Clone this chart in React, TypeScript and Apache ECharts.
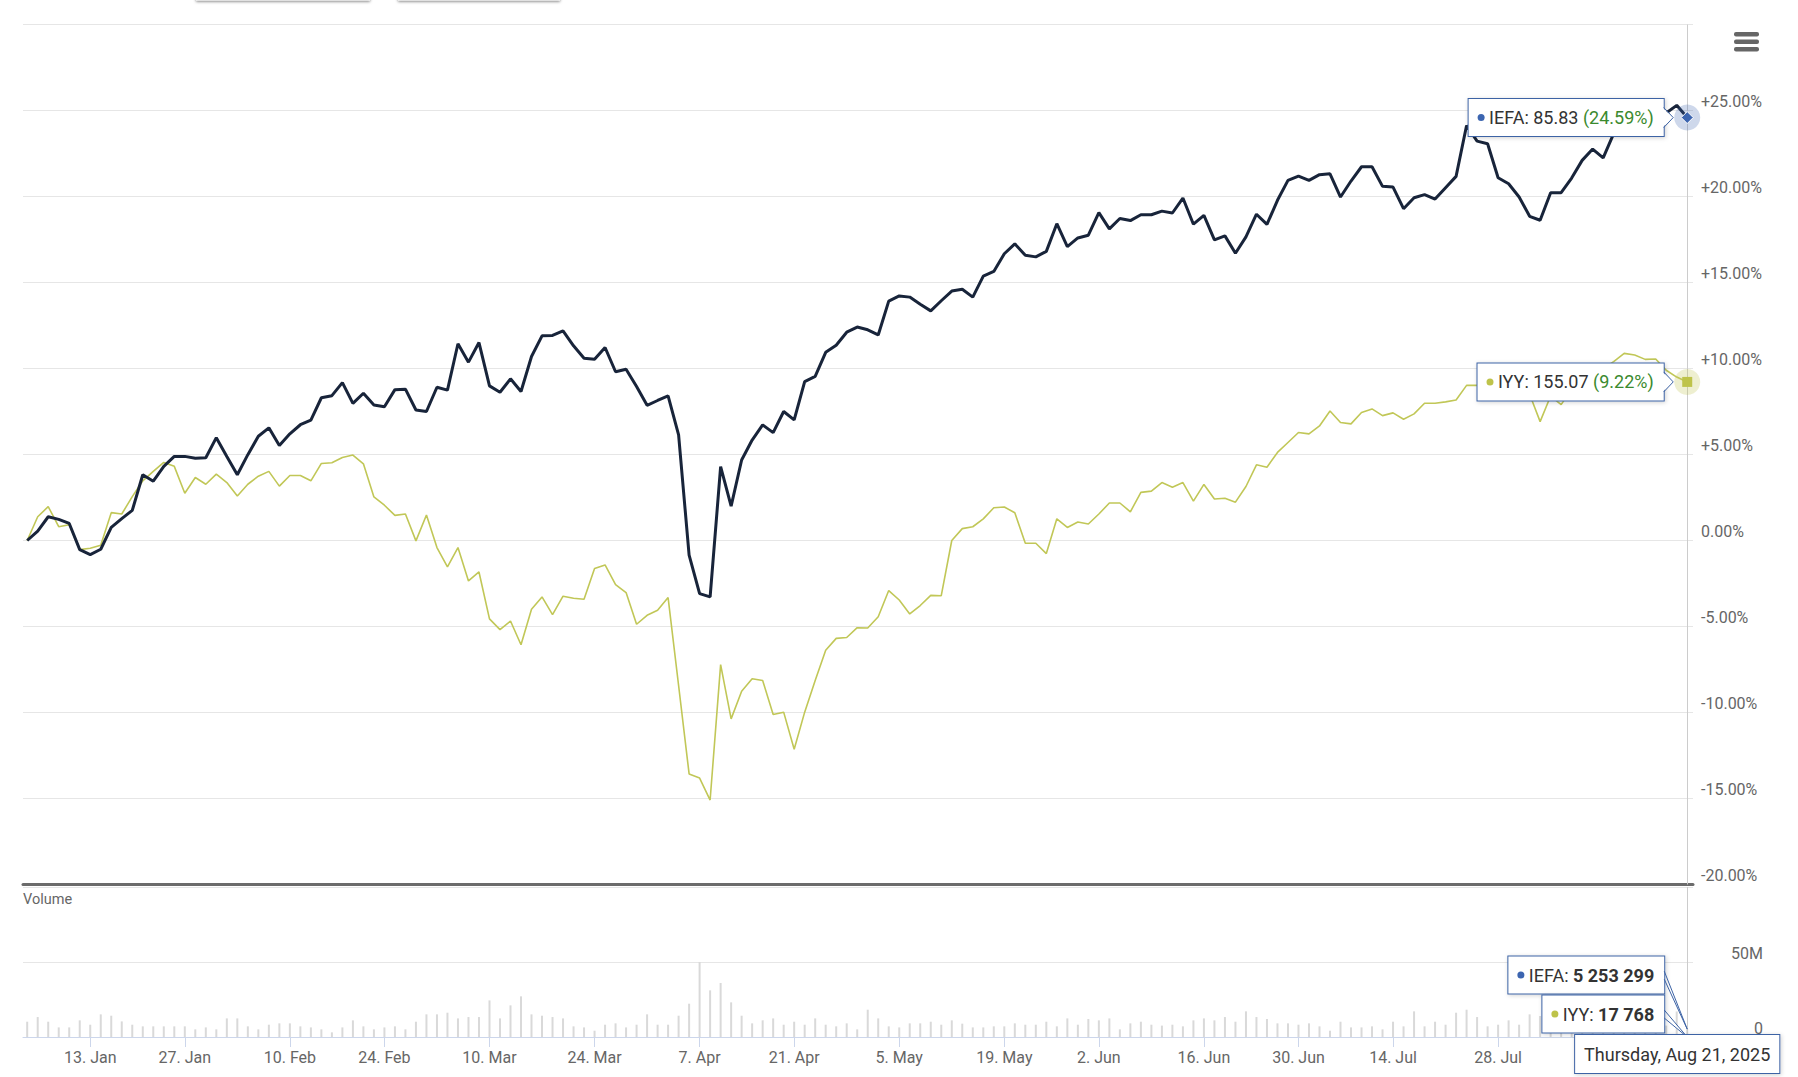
import React, { useEffect, useRef } from "react";
import * as echarts from "echarts";

// ---------- categories ----------
const HOLIDAYS = ["2025-01-09", "2025-01-20", "2025-02-17", "2025-04-18", "2025-05-26", "2025-06-19", "2025-07-04"];
const FIRST_DAY = "2025-01-02";
const LAST_DAY = "2025-08-21";
const MONTHS = ["Jan", "Feb", "Mar", "Apr", "May", "Jun", "Jul", "Aug", "Sep", "Oct", "Nov", "Dec"];
const WEEKDAYS = ["Sunday", "Monday", "Tuesday", "Wednesday", "Thursday", "Friday", "Saturday"];
const TICK_DATES = [
  "2025-01-13", "2025-01-27", "2025-02-10", "2025-02-24", "2025-03-10", "2025-03-24", "2025-04-07", "2025-04-21",
  "2025-05-05", "2025-05-19", "2025-06-02", "2025-06-16", "2025-06-30", "2025-07-14", "2025-07-28", "2025-08-11",
];

function tradingDays(): string[] {
  const out: string[] = [];
  const d = new Date(FIRST_DAY + "T00:00:00Z");
  const end = new Date(LAST_DAY + "T00:00:00Z");
  while (d.getTime() <= end.getTime()) {
    const s = d.toISOString().slice(0, 10);
    const wd = d.getUTCDay();
    if (wd !== 0 && wd !== 6 && HOLIDAYS.indexOf(s) < 0) out.push(s);
    d.setUTCDate(d.getUTCDate() + 1);
  }
  return out;
}
const DATES = tradingDays();

// ---------- series values (% change since start) ----------
const IEFA_PCT = [
  0, 0.55, 1.38, 1.23, 0.99, -0.53, -0.82, -0.51, 0.76, 1.27,
  1.75, 3.82, 3.45, 4.31, 4.89, 4.89, 4.78, 4.81, 5.98, 4.89,
  3.82, 4.99, 6.06, 6.55, 5.52, 6.2, 6.73, 7.0, 8.3, 8.42,
  9.18, 7.97, 8.56, 7.88, 7.78, 8.77, 8.8, 7.59, 7.5, 8.91,
  8.74, 11.44, 10.37, 11.51, 8.99, 8.62, 9.4, 8.66, 10.7, 11.9,
  11.92, 12.19, 11.32, 10.6, 10.54, 11.22, 9.81, 9.96, 8.95, 7.86,
  8.14, 8.41, 6.14, -0.85, -3.09, -3.28, 4.29, 2.0, 4.68, 5.84,
  6.72, 6.27, 7.5, 7.01, 9.24, 9.54, 10.94, 11.35, 12.11, 12.41,
  12.25, 11.95, 13.92, 14.22, 14.15, 13.74, 13.35, 13.94, 14.5, 14.61,
  14.15, 15.37, 15.64, 16.67, 17.25, 16.58, 16.49, 16.81, 18.42, 17.09,
  17.59, 17.75, 19.06, 18.12, 18.72, 18.6, 18.94, 18.94, 19.15, 19.04,
  19.91, 18.39, 18.9, 17.48, 17.71, 16.7, 17.65, 18.97, 18.38, 19.78,
  20.94, 21.19, 20.94, 21.27, 21.32, 19.97, 20.9, 21.73, 21.73, 20.59,
  20.55, 19.29, 19.93, 20.11, 19.85, 20.51, 21.17, 24.13, 23.22, 23.07,
  21.09, 20.74, 19.97, 18.85, 18.62, 20.22, 20.22, 21.07, 22.1, 22.76,
  22.25, 23.65, 24.3, 24.0, 24.4, 24.7, 24.85, 25.3, 24.59,
];
const IYY_PCT = [
  0, 1.38, 1.97, 0.8, 0.92, -0.53, -0.45, -0.27, 1.62, 1.54,
  2.55, 3.47, 4.02, 4.54, 4.31, 2.75, 3.66, 3.27, 3.86, 3.37,
  2.59, 3.27, 3.74, 4.02, 3.16, 3.78, 3.78, 3.47, 4.48, 4.52,
  4.83, 4.97, 4.46, 2.53, 2.05, 1.46, 1.54, -0.02, 1.48, -0.41,
  -1.53, -0.41, -2.35, -1.83, -4.56, -5.18, -4.68, -6.06, -4.0, -3.28,
  -4.31, -3.24, -3.36, -3.42, -1.63, -1.42, -2.56, -3.03, -4.87, -4.35,
  -4.06, -3.32, -8.43, -13.57, -13.81, -15.09, -7.22, -10.37, -8.76, -8.04,
  -8.14, -10.12, -9.98, -12.14, -9.98, -8.14, -6.38, -5.69, -5.64, -5.07,
  -5.09, -4.43, -2.91, -3.46, -4.27, -3.78, -3.19, -3.21, 0.0, 0.69,
  0.8, 1.26, 1.9, 1.95, 1.61, -0.16, -0.16, -0.76, 1.26, 0.76,
  1.08, 0.96, 1.54, 2.18, 2.18, 1.67, 2.8, 2.87, 3.37, 3.1,
  3.37, 2.29, 3.26, 2.41, 2.46, 2.23, 3.14, 4.4, 4.26, 5.12,
  5.7, 6.28, 6.2, 6.66, 7.53, 6.86, 6.78, 7.44, 7.65, 7.26,
  7.42, 7.05, 7.36, 7.98, 7.98, 8.06, 8.17, 9.02, 9.02, 9.02,
  8.9, 8.8, 8.7, 8.5, 6.91, 8.4, 7.9, 8.8, 9.2, 9.6,
  10.0, 10.4, 10.88, 10.78, 10.53, 10.55, 9.9, 9.5, 9.22,
];
// IEFA daily volume, millions of shares
const IEFA_VOL_M = [
  10.2, 13.3, 10.2, 6.4, 6.4, 11.1, 8.2, 15.1, 14.2, 10.4,
  8.2, 7.1, 7.1, 7.1, 7.1, 7.1, 5.1, 6.4, 5.1, 12.4,
  12.4, 7.1, 5.1, 8.2, 9.1, 9.1, 7.1, 6.4, 5.1, 3.1,
  6.4, 11.1, 7.1, 5.1, 6.4, 7.1, 5.1, 10.2, 15.1, 15.1,
  16.2, 12.4, 13.3, 13.3, 24.4, 12.4, 21.1, 27.1, 15.1, 14.2,
  13.3, 12.4, 7.1, 6.4, 4.2, 8.2, 9.1, 6.4, 8.2, 15.1,
  8.2, 8.2, 14.2, 22.2, 50.0, 31.1, 36.0, 23.1, 14.2, 9.1,
  11.1, 12.4, 8.2, 10.2, 8.2, 12.4, 8.2, 7.1, 9.1, 5.1,
  18.2, 12.4, 7.1, 6.4, 9.1, 9.1, 10.2, 8.2, 11.1, 8.9,
  6.4, 6.4, 7.1, 7.1, 9.1, 8.2, 8.2, 10.2, 7.1, 12.4,
  8.2, 12.0, 11.1, 12.4, 5.1, 9.1, 10.2, 8.2, 7.6, 8.2,
  7.1, 11.1, 12.4, 11.1, 13.3, 10.2, 17.1, 13.3, 12.0, 9.1,
  9.1, 8.2, 9.1, 7.1, 4.2, 10.2, 6.4, 6.4, 7.1, 5.1,
  10.2, 7.1, 17.1, 7.1, 10.2, 8.2, 16.2, 18.2, 13.3, 7.1,
  8.2, 11.1, 8.2, 15.1, 14.0, 9.5, 8.0, 7.5, 8.6, 10.0,
  9.2, 7.8, 8.4, 7.0, 9.0, 8.8, 7.6, 17.0, 5.253299,
];
const LAST_PRICE_IEFA = 85.83;
const LAST_PRICE_IYY = 155.07;
const LAST_VOL_IEFA = 5253299;
const LAST_VOL_IYY = 17768;

// ---------- style ----------
const FONT = 'Roboto, "Noto Sans", sans-serif';
const C = {
  iefa: "#18243a",
  iyy: "#c1c757",
  grid: "#e6e6e6",
  label: "#666666",
  tip: "#3d63a5",
  green: "#3b8a2e",
  dotIefa: "#3c65b0",
  dotIyy: "#bec34a",
  vol: "#d9d9d9",
  axis: "#ccd6eb",
};

const fmtSpace = (n: number) => String(n).replace(/\B(?=(\d{3})+(?!\d))/g, " ");
const fmtPct = (v: number) => (v > 0 ? "+" + v.toFixed(2) + "%" : v.toFixed(2) + "%");
const fmtTick = (v: number) => {
  const s = DATES[Math.round(v)];
  if (!s) return "";
  return parseInt(s.slice(8, 10), 10) + ". " + MONTHS[parseInt(s.slice(5, 7), 10) - 1];
};
const longDate = (s: string) => {
  const d = new Date(s + "T00:00:00Z");
  return WEEKDAYS[d.getUTCDay()] + ", " + MONTHS[d.getUTCMonth()] + " " + d.getUTCDate() + ", " + d.getUTCFullYear();
};

export default function App() {
  const ref = useRef<HTMLDivElement>(null);

  useEffect(() => {
    document.body.style.margin = "0";
    if (!ref.current) return;
    const chart = echarts.init(ref.current, undefined, { renderer: "svg" });
    const N = DATES.length;
    const last = N - 1;
    const xMin = -0.4;
    const xMax = last + 0.55;
    const tickIdx = TICK_DATES.map((d) => DATES.indexOf(d)).filter((i) => i >= 0);

    const crosshair = {
      symbol: ["none", "none"],
      silent: true,
      animation: false,
      label: { show: false },
      lineStyle: { color: "#cccccc", width: 1, type: "solid" },
      data: [{ xAxis: last }],
    };

    const option: any = {
      animation: false,
      backgroundColor: "#ffffff",
      textStyle: { fontFamily: FONT },
      grid: [
        { left: 23, right: 105, top: 24.5, height: 860, outerBoundsMode: "none" },
        { left: 23, right: 105, top: 887, height: 150, outerBoundsMode: "none" },
      ],
      xAxis: [
        {
          type: "value", gridIndex: 0, min: xMin, max: xMax,
          axisLabel: { show: false }, axisTick: { show: false }, splitLine: { show: false },
          axisLine: { show: true, onZero: false, lineStyle: { color: "#6b6b6b", width: 3 } },
        },
        {
          type: "value", gridIndex: 1, min: xMin, max: xMax,
          splitLine: { show: false },
          axisLine: { show: true, onZero: false, lineStyle: { color: C.axis, width: 1 } },
          axisTick: { show: true, customValues: tickIdx, length: 10, lineStyle: { color: C.axis } },
          axisLabel: {
            show: true, customValues: tickIdx, formatter: fmtTick,
            color: C.label, fontSize: 16, margin: 12, fontFamily: FONT,
          },
        },
      ],
      yAxis: [
        {
          type: "value", gridIndex: 0, position: "right", min: -20, max: 30, interval: 5,
          axisLine: { show: false }, axisTick: { show: false },
          splitLine: { show: true, lineStyle: { color: C.grid, width: 1 } },
          axisLabel: {
            margin: 8, align: "left", verticalAlign: "bottom", lineHeight: 18,
            color: C.label, fontSize: 16, fontFamily: FONT, showMaxLabel: false, formatter: fmtPct,
          },
        },
        {
          type: "value", gridIndex: 1, position: "right", min: 0, max: 100e6, interval: 50e6,
          axisLine: { show: false }, axisTick: { show: false },
          splitLine: { show: true, lineStyle: { color: C.grid, width: 1 } },
          axisLabel: {
            margin: 70, align: "right", verticalAlign: "bottom", lineHeight: 18,
            color: C.label, fontSize: 16, fontFamily: FONT, showMaxLabel: false,
            formatter: (v: number) => (v === 0 ? "0" : v / 1e6 + "M"),
          },
        },
      ],
      series: [
        {
          type: "bar", name: "IEFA volume", xAxisIndex: 1, yAxisIndex: 1, silent: true,
          data: IEFA_VOL_M.map((v, i) => [i, v * 1e6]),
          barWidth: 2, itemStyle: { color: C.vol }, z: 1,
          markLine: crosshair,
        },
        {
          type: "line", name: "IYY", xAxisIndex: 0, yAxisIndex: 0, silent: true,
          data: IYY_PCT.map((v, i) => [i, v]),
          showSymbol: false, lineStyle: { color: C.iyy, width: 1.6 }, itemStyle: { color: C.iyy }, z: 2,
          markPoint: {
            silent: true, animation: false, label: { show: false },
            data: [
              { coord: [last, IYY_PCT[last]], symbol: "circle", symbolSize: 26, itemStyle: { color: "rgba(193,199,87,0.28)" } },
              { coord: [last, IYY_PCT[last]], symbol: "rect", symbolSize: 10, itemStyle: { color: C.dotIyy } },
            ],
          },
        },
        {
          type: "line", name: "IEFA", xAxisIndex: 0, yAxisIndex: 0, silent: true,
          data: IEFA_PCT.map((v, i) => [i, v]),
          showSymbol: false, lineStyle: { color: C.iefa, width: 3 }, itemStyle: { color: C.iefa }, z: 3,
          markLine: crosshair,
          markPoint: {
            silent: true, animation: false, label: { show: false },
            data: [
              { coord: [last, IEFA_PCT[last]], symbol: "circle", symbolSize: 26, itemStyle: { color: "rgba(60,101,176,0.25)" } },
              { coord: [last, IEFA_PCT[last]], symbol: "diamond", symbolSize: 12, itemStyle: { color: C.dotIefa, borderColor: "#ffffff", borderWidth: 1 } },
            ],
          },
        },
      ],
    };
    chart.setOption(option);

    const pA = chart.convertToPixel({ gridIndex: 0 } as any, [last, IEFA_PCT[last]]) as number[];
    const pB = chart.convertToPixel({ gridIndex: 0 } as any, [last, IYY_PCT[last]]) as number[];
    const pV = chart.convertToPixel({ gridIndex: 1 } as any, [last, IEFA_VOL_M[last] * 1e6]) as number[];
    const pV0 = chart.convertToPixel({ gridIndex: 1 } as any, [last, 0]) as number[];

    const FS = 18;
    const LH = 21;
    const base = (fill: string, extra: any = {}) => ({ fill, fontSize: FS, fontFamily: FONT, lineHeight: LH, ...extra });
    const boxStyle = {
      backgroundColor: "#ffffff",
      borderColor: C.tip,
      borderWidth: 1,
      padding: [8, 10, 8, 9],
      shadowBlur: 4,
      shadowOffsetX: 1,
      shadowOffsetY: 1,
      shadowColor: "rgba(0,0,0,0.18)",
    };

    const tip = (right: number, cy: number, text: string, rich: any) => ({
      type: "text",
      z: 100,
      x: right,
      y: cy,
      style: {
        text,
        rich,
        align: "right",
        verticalAlign: "middle",
        ...base("#333333"),
        ...boxStyle,
      },
    });
    const notch = (right: number, cy: number) => [
      { type: "polygon", z: 101, shape: { points: [[right - 1.5, cy - 10], [right + 9.5, cy], [right - 1.5, cy + 10]] }, style: { fill: "#ffffff" } },
      { type: "polyline", z: 102, shape: { points: [[right, cy - 10], [right + 9.5, cy], [right, cy + 10]] }, style: { stroke: C.tip, lineWidth: 1, fill: null } },
    ];
    const wedge = (right: number, cy: number, px: number, py: number) => [
      { type: "polygon", z: 99, shape: { points: [[right - 1.5, cy - 4], [px, py], [right - 1.5, cy + 4]] }, style: { fill: "#ffffff" } },
      { type: "polyline", z: 102, shape: { points: [[right, cy - 4], [px, py], [right, cy + 4]] }, style: { stroke: C.tip, lineWidth: 1, fill: null } },
    ];

    const dot = (color: string) => ({
      width: 7, height: 7, lineHeight: 7, borderRadius: 3.5, backgroundColor: color,
      fontSize: 2, fill: "rgba(0,0,0,0)", verticalAlign: "middle",
    });
    const richIefa = {
      d: dot(C.dotIefa),
      g: base(C.green),
      b: base("#333333", { fontWeight: "bold" }),
    };
    const richIyy = {
      d: dot(C.dotIyy),
      g: base(C.green),
      b: base("#333333", { fontWeight: "bold" }),
    };

    const rA = pA[0] - 23.5;
    const rB = pB[0] - 23.5;
    const rV = pV[0] - 23;
    const cyV = pV[1] - 54;
    const cyV0 = pV0[1] - 23;

    const graphics: any[] = [
      // range-selector buttons cut off at the top edge
      { type: "rect", z: 50, shape: { x: 196, y: -30, width: 174, height: 30.5 }, style: { fill: "#f7f7f7", shadowBlur: 3, shadowOffsetY: 1, shadowColor: "rgba(0,0,0,0.55)" } },
      { type: "rect", z: 50, shape: { x: 398, y: -30, width: 162, height: 30.5 }, style: { fill: "#f7f7f7", shadowBlur: 3, shadowOffsetY: 1, shadowColor: "rgba(0,0,0,0.55)" } },
      // export menu icon
      { type: "rect", z: 50, shape: { x: 1734, y: 32, width: 25, height: 4.5, r: 2 }, style: { fill: "#666666" } },
      { type: "rect", z: 50, shape: { x: 1734, y: 39.5, width: 25, height: 4.5, r: 2 }, style: { fill: "#666666" } },
      { type: "rect", z: 50, shape: { x: 1734, y: 47, width: 25, height: 4.5, r: 2 }, style: { fill: "#666666" } },
      // volume pane title
      { type: "text", z: 50, x: 23, y: 892, style: { text: "Volume", fill: C.label, fontSize: 14.5, fontFamily: FONT, align: "left", verticalAlign: "top" } },
      // main tooltips
      tip(rA, pA[1], "{d| } IEFA: " + LAST_PRICE_IEFA.toFixed(2) + " {g|(" + IEFA_PCT[last].toFixed(2) + "%)}", richIefa),
      ...notch(rA, pA[1]),
      tip(rB, pB[1], "{d| } IYY: " + LAST_PRICE_IYY.toFixed(2) + " {g|(" + IYY_PCT[last].toFixed(2) + "%)}", richIyy),
      ...notch(rB, pB[1]),
      // volume tooltips
      ...wedge(rV, cyV, pV[0], pV[1]),
      tip(rV, cyV, "{d| } IEFA: {b|" + fmtSpace(LAST_VOL_IEFA) + "}", richIefa),
      ...wedge(rV, cyV0, pV0[0], pV0[1]),
      tip(rV, cyV0, "{d| } IYY: {b|" + fmtSpace(LAST_VOL_IYY) + "}", richIyy),
      // date label
      {
        type: "text",
        z: 103,
        x: pV0[0] - 10,
        y: pV0[1] - 2,
        style: {
          text: longDate(DATES[last]),
          align: "center",
          verticalAlign: "top",
          ...base("#333333", { lineHeight: 22 }),
          ...boxStyle,
          padding: [8, 9, 8, 9],
        },
      },
    ];
    chart.setOption({ graphic: graphics });

    return () => {
      chart.dispose();
    };
  }, []);

  return <div ref={ref} style={{ width: 1798, height: 1077 }} />;
}
